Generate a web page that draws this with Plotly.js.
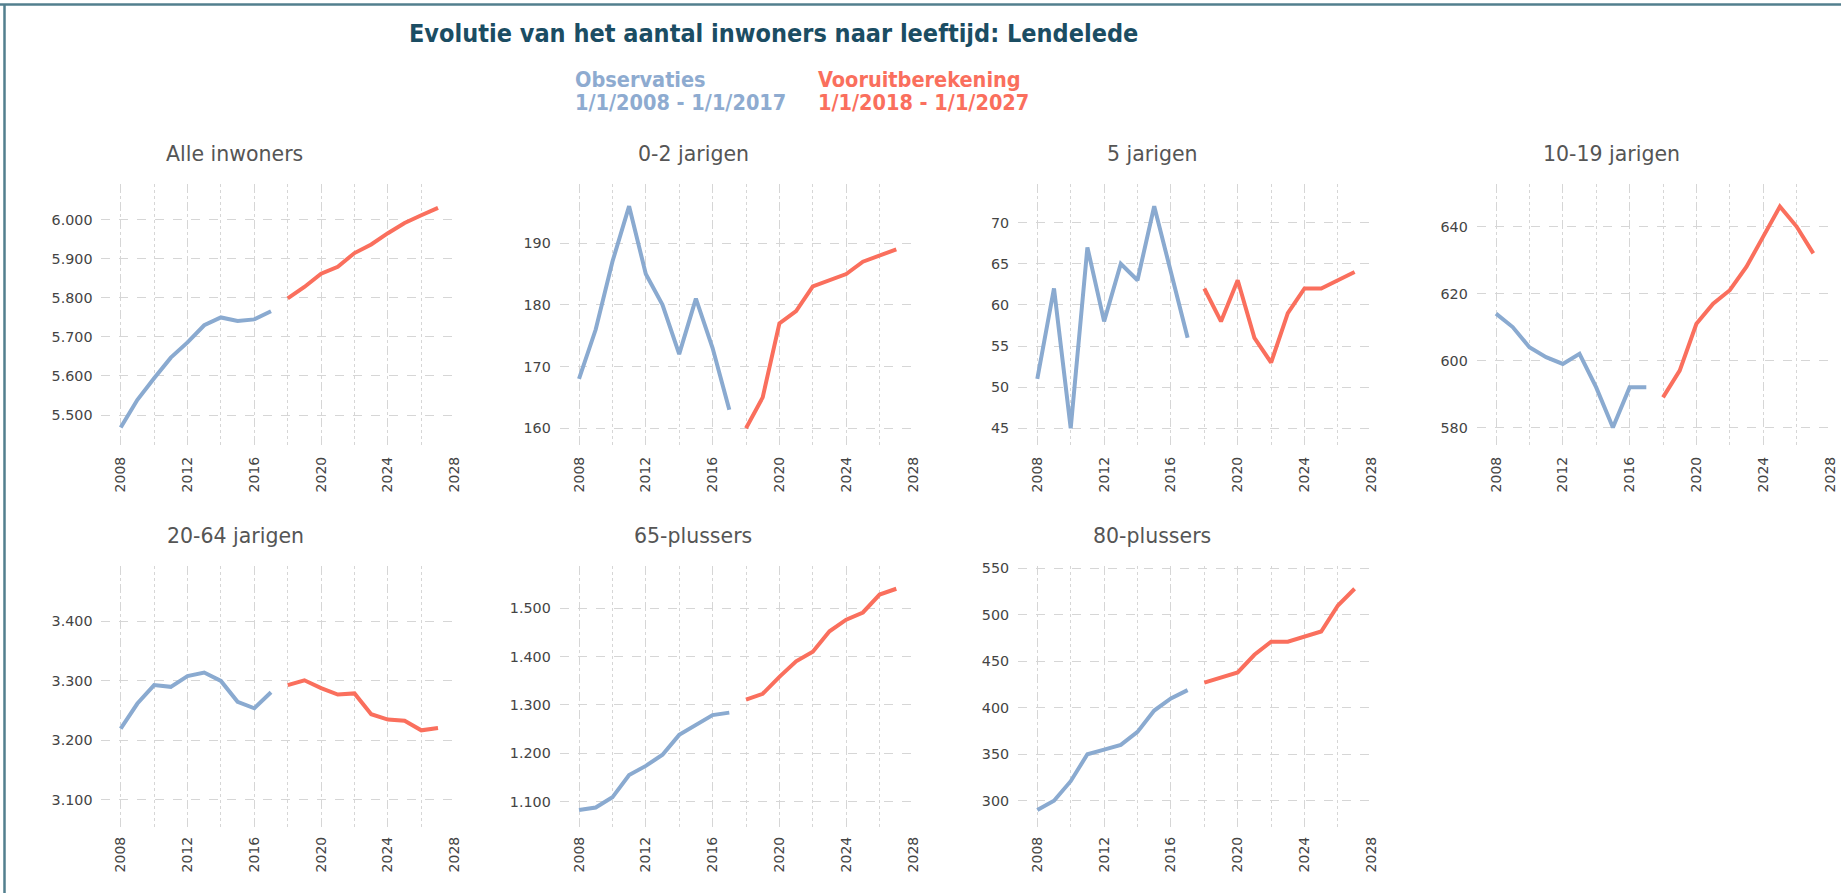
<!DOCTYPE html>
<html><head><meta charset="utf-8">
<script src="https://cdn.plot.ly/plotly-3.0.1.min.js"></script>
<style>html,body{margin:0;padding:0;background:#fff;} #chart{width:1841px;height:893px;}</style>
</head><body><div id="chart"></div>
<script>
// ---------- DATA ----------
const yearsObs  = [2008, 2009, 2010, 2011, 2012, 2013, 2014, 2015, 2016, 2017];
const yearsProj = [2018, 2019, 2020, 2021, 2022, 2023, 2024, 2025, 2026, 2027];
const xTickVals = [2008, 2012, 2016, 2020, 2024, 2028];
const xTickText = ["2008", "2012", "2016", "2020", "2024", "2028"];

const panelTitles = ["Alle inwoners", "0-2 jarigen", "5 jarigen", "10-19 jarigen",
                     "20-64 jarigen", "65-plussers", "80-plussers"];

const alleObs   = [5468, 5539, 5594, 5647, 5686, 5730, 5750, 5741, 5745, 5766];
const alleProj  = [5799, 5828, 5862, 5880, 5915, 5937, 5966, 5992, 6012, 6031];
const j02Obs    = [168, 176, 187, 196, 185, 180, 172, 181, 173, 163];
const j02Proj   = [160, 165, 177, 179, 183, 184, 185, 187, 188, 189];
const j5Obs     = [51, 62, 45, 67, 58, 65, 63, 72, 64, 56];
const j5Proj    = [62, 58, 63, 56, 53, 59, 62, 62, 63, 64];
const j1019Obs  = [614, 610, 604, 601, 599, 602, 592, 580, 592, 592];
const j1019Proj = [589, 597, 611, 617, 621, 628, 637, 646, 640, 632];
const j2064Obs  = [3220, 3262, 3293, 3290, 3308, 3314, 3300, 3265, 3254, 3281];
const j2064Proj = [3293, 3301, 3288, 3277, 3279, 3244, 3235, 3233, 3217, 3221];
const p65Obs    = [1083, 1088, 1109, 1155, 1174, 1197, 1238, 1259, 1279, 1284];
const p65Proj   = [1311, 1323, 1358, 1390, 1410, 1452, 1476, 1491, 1528, 1540];
const p80Obs    = [290, 300, 321, 350, 355, 360, 374, 397, 410, 419];
const p80Proj   = [427, 433, 438, 457, 471, 471, 477, 482, 510, 528];

const titleText = "Evolutie van het aantal inwoners naar leeftijd: Lendelede";
const legendObs  = ["Observaties", "1/1/2008 - 1/1/2017"];
const legendProj = ["Vooruitberekening", "1/1/2018 - 1/1/2027"];

const obsSeries  = [alleObs, j02Obs, j5Obs, j1019Obs, j2064Obs, p65Obs, p80Obs];
const projSeries = [alleProj, j02Proj, j5Proj, j1019Proj, j2064Proj, p65Proj, p80Proj];

// ---------- LAYOUT GEOMETRY ----------
const W = 1841, H = 893;
const px = x => x / W;
const py = y => 1 - y / H;
const BLUE = '#8aaad0', RED = '#fa6f5d';
const GRID = '#d6d6d6';

const geom = [
  {x0: 120.7, top: 184, bot: 447, yr: [5418, 6092],   dt: 100},
  {x0: 579.0, top: 184, bot: 447, yr: [156.95, 199.6], dt: 10},
  {x0: 1037.3,top: 184, bot: 447, yr: [42.73, 74.7],  dt: 5},
  {x0: 1496.0,top: 184, bot: 447, yr: [574.2, 652.7], dt: 20},
  {x0: 120.7, top: 566, bot: 827, yr: [3054.6, 3493], dt: 100},
  {x0: 579.0, top: 566, bot: 827, yr: [1047.7, 1587], dt: 100},
  {x0: 1037.3,top: 566, bot: 827, yr: [271.7, 552.5], dt: 50}
];
const pxPerYear = 16.7;
const xRange = [2006.85, 2028.05];
const titleCenters = [[234.5,154],[693,154],[1152,154],[1611,154],[235,536],[693,536],[1152,536]];

const data = [];
const layout = {
  width: W, height: H, autosize: false,
  margin: {l: 0, r: 0, t: 0, b: 0},
  paper_bgcolor: '#ffffff', plot_bgcolor: '#ffffff',
  showlegend: false,
  separators: ',.',
  font: {family: 'DejaVu Sans', color: '#444444'},
  annotations: [],
  shapes: [
    {type: 'line', xref: 'paper', yref: 'paper', x0: 0, x1: 1, y0: py(4.5), y1: py(4.5),
     line: {color: '#527f8e', width: 2.5}},
    {type: 'line', xref: 'paper', yref: 'paper', x0: px(4.5), x1: px(4.5), y0: 0, y1: py(4.5),
     line: {color: '#527f8e', width: 2.5}}
  ]
};

geom.forEach((g, i) => {
  const n = i === 0 ? '' : String(i + 1);
  const xa = 'x' + n, ya = 'y' + n;
  const left = g.x0 - (2008 - xRange[0]) * pxPerYear;
  const right = g.x0 + (xRange[1] - 2008) * pxPerYear;
  layout['xaxis' + n] = {
    domain: [px(left), px(right)], anchor: ya, range: xRange,
    tickmode: 'array', tickvals: xTickVals, ticktext: xTickText, tickangle: -90,
    ticks: '', ticklabelstandoff: 6,
    tickfont: {family: 'DejaVu Sans', size: 14, color: '#444444'},
    showgrid: true, gridcolor: GRID, griddash: 'dash', gridwidth: 1,
    minor: {tickmode: 'linear', tick0: 2008, dtick: 2, showgrid: true, gridcolor: GRID, griddash: 'dot', gridwidth: 1},
    zeroline: false, showline: false, fixedrange: true
  };
  layout['yaxis' + n] = {
    domain: [py(g.bot), py(g.top)], anchor: xa, range: g.yr,
    tickmode: 'linear', dtick: g.dt, tick0: 0, tickformat: ',d',
    ticks: '', ticklabelstandoff: 8,
    tickfont: {family: 'DejaVu Sans', size: 14.3, color: '#444444'},
    showgrid: true, gridcolor: GRID, griddash: 'dash', gridwidth: 1,
    zeroline: false, showline: false, fixedrange: true
  };
  data.push({x: yearsObs, y: obsSeries[i], xaxis: xa, yaxis: ya, type: 'scatter', mode: 'lines',
             line: {color: BLUE, width: 4}, hoverinfo: 'skip'});
  data.push({x: yearsProj, y: projSeries[i], xaxis: xa, yaxis: ya, type: 'scatter', mode: 'lines',
             line: {color: RED, width: 4}, hoverinfo: 'skip'});
  layout.annotations.push({
    text: panelTitles[i], xref: 'paper', yref: 'paper',
    x: px(titleCenters[i][0]), y: py(titleCenters[i][1]), xanchor: 'center', yanchor: 'middle',
    showarrow: false, font: {family: 'DejaVu Sans', size: 20.5, color: '#555555'}
  });
});

// main title
layout.annotations.push({
  text: titleText, xref: 'paper', yref: 'paper', x: px(773.5), y: py(33),
  xanchor: 'center', yanchor: 'middle', showarrow: false,
  font: {family: 'DejaVu Sans Condensed', size: 25, weight: 'bold', color: '#1b4d63'}
});
// legend text blocks
const legY = [80, 103];
legendObs.forEach((t, k) => layout.annotations.push({
  text: t, xref: 'paper', yref: 'paper', x: px(573), y: py(legY[k]),
  xanchor: 'left', yanchor: 'middle', showarrow: false,
  font: {family: 'DejaVu Sans Condensed', size: 21.5, weight: 'bold', color: '#8eabd0'}
}));
legendProj.forEach((t, k) => layout.annotations.push({
  text: t, xref: 'paper', yref: 'paper', x: px(816), y: py(legY[k]),
  xanchor: 'left', yanchor: 'middle', showarrow: false,
  font: {family: 'DejaVu Sans Condensed', size: 21.5, weight: 'bold', color: '#fa6f5d'}
}));

Plotly.newPlot('chart', data, layout, {displayModeBar: false, staticPlot: true});
</script>
</body></html>
